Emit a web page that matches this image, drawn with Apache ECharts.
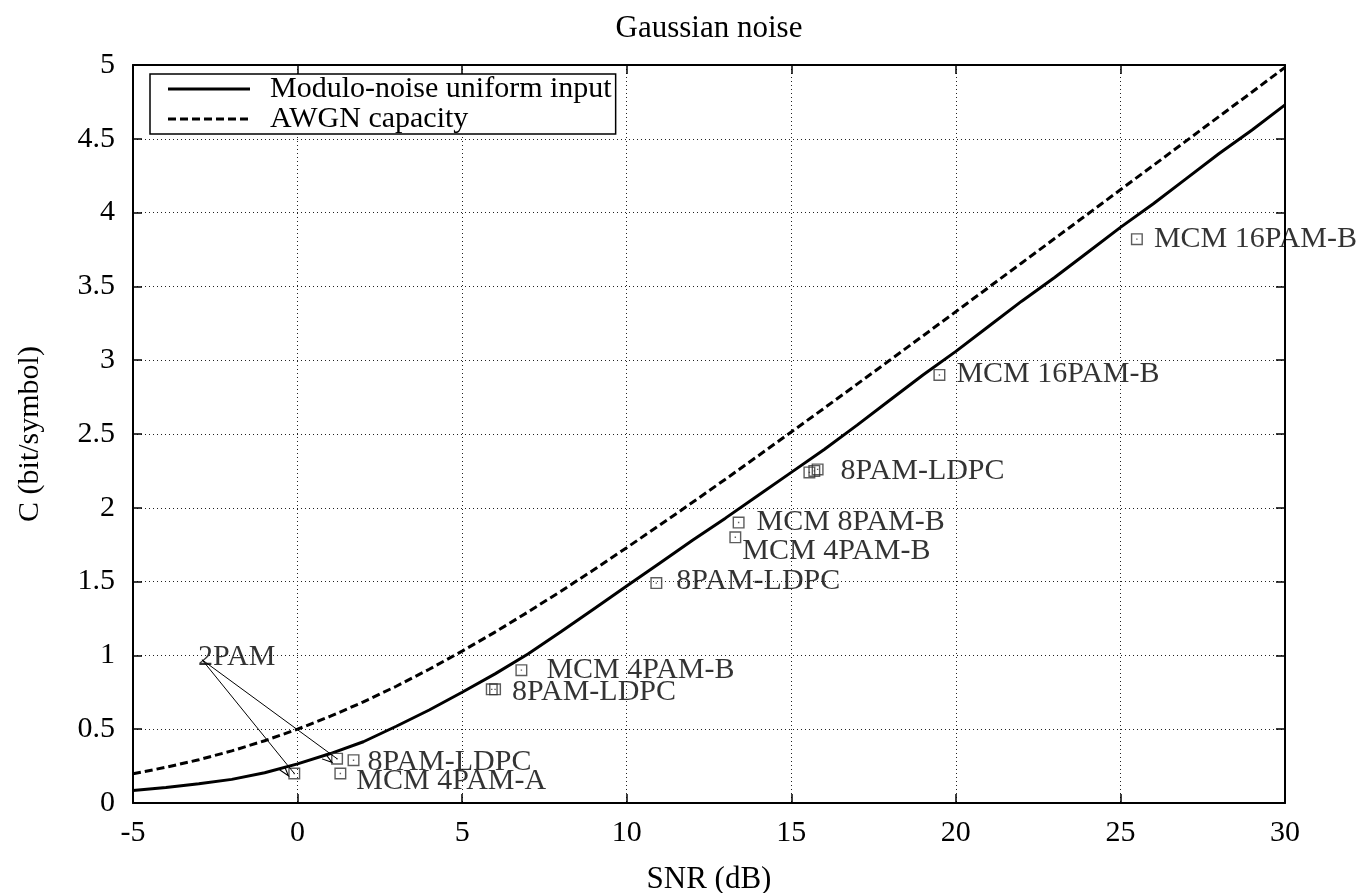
<!DOCTYPE html>
<html>
<head>
<meta charset="utf-8">
<script src="https://cdn.jsdelivr.net/npm/echarts@6/dist/echarts.min.js"></script>
<style>
  html, body { margin: 0; padding: 0; background: #fff; }
  #chart { width: 1362px; height: 893px; }
</style>
</head>
<body>
<div id="chart"></div>
<script>
// SNR grid (dB) shared by both capacity curves
const snrDb = [-5, -4, -3, -2, -1, 0, 1, 2, 3, 4, 5, 6, 7, 8, 9, 10, 11, 12,
  13, 14, 15, 16, 17, 18, 19, 20, 21, 22, 23, 24, 25, 26, 27, 28, 29, 30];

// Modulo-noise channel, uniform input (bit/symbol)
const moduloNoise = [0.085, 0.105, 0.13, 0.16, 0.205, 0.265, 0.335, 0.415, 0.52, 0.63,
  0.75, 0.875, 1.01, 1.16, 1.315, 1.47, 1.625, 1.78, 1.93, 2.085,
  2.24, 2.395, 2.56, 2.73, 2.90, 3.06, 3.23, 3.40, 3.56, 3.73,
  3.90, 4.06, 4.23, 4.40, 4.56, 4.73];

// AWGN capacity (bit/symbol)
const awgnCapacity = [0.198, 0.242, 0.293, 0.353, 0.422, 0.5, 0.588, 0.685, 0.791, 0.906,
  1.029, 1.158, 1.294, 1.435, 1.580, 1.730, 1.882, 2.037, 2.194, 2.353,
  2.514, 2.675, 2.838, 3.001, 3.165, 3.329, 3.494, 3.659, 3.824, 3.989,
  4.155, 4.320, 4.486, 4.652, 4.817, 4.984];

// Simulated coded schemes: SNR (dB), rate (bit/symbol), caption
const codeSnr  = [-0.1, 1.2, 1.7, 1.3, 5.9, 6.0, 6.8, 10.9, 13.3, 13.4, 15.55, 15.7, 15.8, 19.5, 25.5];
const codeRate = [0.20, 0.30, 0.29, 0.20, 0.77, 0.77, 0.90, 1.49, 1.80, 1.90, 2.24, 2.25, 2.26, 2.90, 3.82];
const codeName = ['', '', '8PAM-LDPC', 'MCM 4PAM-A', '', '8PAM-LDPC', 'MCM 4PAM-B', '8PAM-LDPC',
  'MCM 4PAM-B', 'MCM 8PAM-B', '', '', '8PAM-LDPC', 'MCM 16PAM-B', 'MCM 16PAM-B'];

// Points pointed at by the "2PAM" arrows (indices into the code arrays)
const pam2Points = [0, 1];
const pam2Caption = '2PAM';

const xTicks = [-5, 0, 5, 10, 15, 20, 25, 30];
const yTicks = [0, 0.5, 1, 1.5, 2, 2.5, 3, 3.5, 4, 4.5, 5];

const seriesNames = ['Modulo-noise uniform input', 'AWGN capacity'];
const titleText = 'Gaussian noise';
const xName = 'SNR (dB)';
const yName = 'C (bit/symbol)';

// ---- styling ----
const FONT = 'Liberation Serif';
const FS = 30;

// caption placement next to each marker: gap to the right and vertical shift
const captionPlacement = {
  2: [8, 2], 3: [10, 8], 5: [11, 3], 6: [19, 0], 7: [14, -2],
  8: [1, 14], 9: [12, 0], 12: [17, 1.5], 13: [11, -1], 14: [11, 0]
};

// open square with a centre dot
const squareMark = 'path://M0,0H12V12H0Z M1.4,1.4V10.6H10.6V1.4Z M5.3,5.3H6.7V6.7H5.3Z';
// open V arrow head pointing up
const arrowHead = 'path://M0,0L-3.6,12L-2.4,12L0,3.8L2.4,12L3.6,12Z';

// legend samples: solid bar and dashed bar
const solidIcon = 'path://M0,0H82V3H0Z';
const dashedIcon = 'path://' + [0, 12, 24, 36, 48, 60, 72].map(x => `M${x},0H${x + 8}V3H${x}Z`).join(' ') +
  ' M82,0H82.01V3H82Z';

const pairs = (xs, ys) => xs.map((x, i) => [x, ys[i]]);

const labelFont = { fontFamily: FONT, fontSize: FS, color: '#000' };

const codeData = codeSnr.map((x, i) => {
  const item = { value: [x, codeRate[i]] };
  const pl = captionPlacement[i];
  if (codeName[i] && pl) {
    item.label = Object.assign({
      show: true, formatter: codeName[i], position: 'right',
      distance: pl[0], offset: [0, pl[1]]
    }, labelFont);
  }
  return item;
});

const arrowTail = [-2.9, 0.97];

const gridLine = { show: true, lineStyle: { color: '#222', width: 1, type: [1, 3] } };
const frameLine = { show: true, onZero: false, lineStyle: { color: '#000', width: 2 } };
const innerTick = { show: true, inside: true, length: 9, lineStyle: { color: '#000', width: 1.5 } };

const xBase = { type: 'value', min: xTicks[0], max: xTicks[xTicks.length - 1], interval: xTicks[1] - xTicks[0] };
const yBase = { type: 'value', min: yTicks[0], max: yTicks[yTicks.length - 1], interval: yTicks[1] - yTicks[0] };

const chart = echarts.init(document.getElementById('chart'), null, { renderer: 'canvas' });

chart.setOption({
  animation: false,
  backgroundColor: '#fff',
  textStyle: { fontFamily: FONT, color: '#000' },
  title: {
    text: titleText, left: 704, top: 8, textAlign: 'center',
    textStyle: { fontFamily: FONT, fontSize: 31, fontWeight: 'normal', color: '#000' }
  },
  grid: { left: 133, right: 77, top: 65, bottom: 90, containLabel: false, outerBoundsMode: 'none' },
  legend: {
    orient: 'vertical', left: 150, top: 74,
    data: [
      { name: seriesNames[0], icon: solidIcon },
      { name: seriesNames[1], icon: dashedIcon }
    ],
    itemWidth: 82, itemHeight: 3, itemGap: 0,
    padding: [0, 4, 0, 18],
    backgroundColor: '#fff', borderColor: '#000', borderWidth: 1.5,
    formatter: n => '  ' + n,
    itemStyle: { color: '#000', borderWidth: 0 },
    textStyle: labelFont,
    selectedMode: false
  },
  xAxis: [
    Object.assign({}, xBase, {
      position: 'bottom',
      name: xName, nameLocation: 'middle', nameGap: 61,
      nameTextStyle: { fontFamily: FONT, fontSize: 31, color: '#000' },
      axisLine: frameLine, axisTick: innerTick, splitLine: gridLine,
      axisLabel: Object.assign({ margin: 15 }, labelFont)
    }),
    Object.assign({}, xBase, {
      position: 'top',
      axisLine: frameLine, axisTick: innerTick, splitLine: { show: false },
      axisLabel: { show: false }
    })
  ],
  yAxis: [
    Object.assign({}, yBase, {
      position: 'left',
      name: yName, nameLocation: 'middle', nameGap: 88, nameRotate: 90,
      nameTextStyle: labelFont,
      axisLine: frameLine, axisTick: innerTick, splitLine: gridLine,
      axisLabel: Object.assign({ margin: 18 }, labelFont)
    }),
    Object.assign({}, yBase, {
      position: 'right',
      axisLine: frameLine, axisTick: innerTick, splitLine: { show: false },
      axisLabel: { show: false }
    })
  ],
  series: [
    {
      name: seriesNames[0], type: 'line',
      data: pairs(snrDb, moduloNoise),
      showSymbol: false, symbol: 'none', smooth: false,
      lineStyle: { color: '#000', width: 3, type: 'solid' },
      itemStyle: { color: '#000' }, z: 3
    },
    {
      name: seriesNames[1], type: 'line',
      data: pairs(snrDb, awgnCapacity),
      showSymbol: false, symbol: 'none', smooth: false,
      lineStyle: { color: '#000', width: 3, type: [8, 4] },
      itemStyle: { color: '#000' }, z: 3
    },
    {
      name: 'codes', type: 'scatter',
      data: codeData,
      symbol: squareMark, symbolSize: 12,
      itemStyle: { color: '#333' },
      label: labelFont,
      emphasis: { disabled: true },
      z: 4
    },
    {
      name: 'pam2', type: 'scatter',
      data: [{
        value: arrowTail,
        label: Object.assign({ show: true, formatter: pam2Caption, position: 'right', distance: 0, offset: [-4, -3] }, labelFont)
      }],
      symbolSize: 0,
      emphasis: { disabled: true },
      markLine: {
        silent: true, animation: false,
        symbol: ['none', arrowHead], symbolSize: [7.2, 12], symbolOffset: [0, 6],
        lineStyle: { color: '#000', width: 1, type: 'solid' },
        itemStyle: { color: '#000' },
        label: { show: false },
        emphasis: { disabled: true },
        data: pam2Points.map(i => [
          { coord: arrowTail },
          { coord: [codeSnr[i], codeRate[i]] }
        ])
      },
      z: 5
    }
  ]
});
</script>
</body>
</html>
